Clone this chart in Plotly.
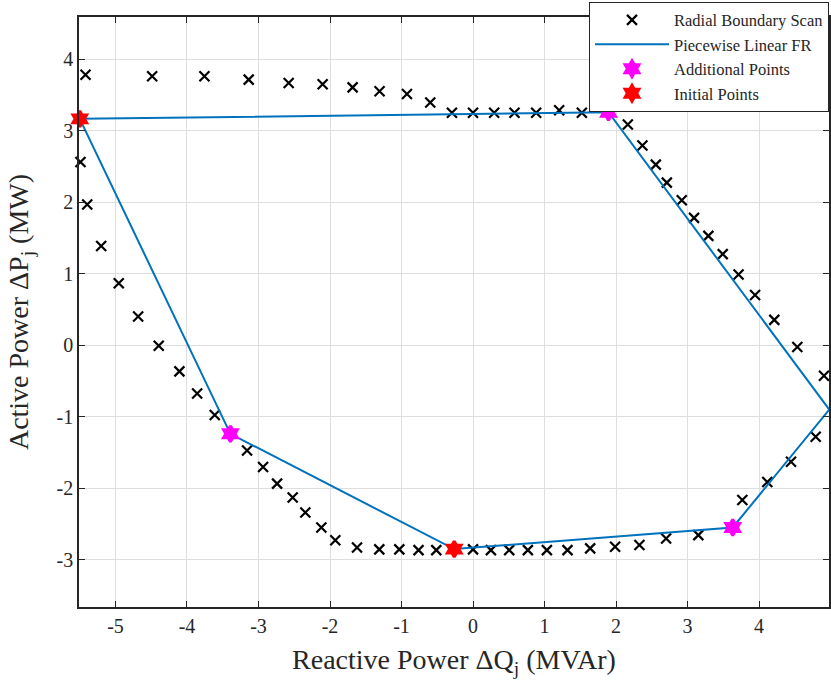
import plotly.graph_objects as go

# Radial boundary scan points (Reactive Q, Active P)
scan_q = [-5.419, -5.489, -5.395, -5.200, -4.954, -4.683, -4.395, -4.106, -3.858, -3.612,
          -3.160, -2.936, -2.740, -2.522, -2.345, -2.121, -1.926, -1.622, -1.311, -1.031,
          -0.762, -0.514, 0.000, 0.250, 0.506, 0.767, 1.033, 1.321, 1.638, 1.987,
          2.327, 2.700, 3.151, 3.766, 4.115, 4.447, 4.792, 4.908, 4.535, 4.213,
          3.944, 3.713, 3.492, 3.291, 3.091, 2.919, 2.710, 2.556, 2.369, 2.165,
          1.522, 1.205, 0.883, 0.580, 0.296, 0.000, -0.295, -0.598, -0.924, -1.307,
          -1.684, -2.103, -2.578, -3.137, -3.756, -4.487]
scan_p = [3.781, 2.560, 1.967, 1.386, 0.866, 0.401, -0.007, -0.365, -0.675, -0.975,
          -1.469, -1.702, -1.933, -2.128, -2.337, -2.546, -2.723, -2.825, -2.852, -2.852,
          -2.862, -2.862, -2.852, -2.862, -2.862, -2.862, -2.862, -2.862, -2.838, -2.816,
          -2.792, -2.699, -2.653, -2.162, -1.911, -1.627, -1.279, -0.425, -0.025, 0.355,
          0.703, 0.989, 1.274, 1.529, 1.780, 2.026, 2.273, 2.524, 2.792, 3.085,
          3.248, 3.284, 3.248, 3.248, 3.248, 3.248, 3.248, 3.391, 3.510, 3.549,
          3.604, 3.646, 3.666, 3.712, 3.758, 3.758]

# Initial points
init_q = [-5.499, -0.263, 4.982]
init_p = [3.164, -2.848, -0.898]

# Additional points
add_q = [1.894, 3.632, -3.393]
add_p = [3.256, -2.546, -1.237]

# Piecewise linear feasible region (closed polygon through vertices)
fr_q = [init_q[0], add_q[0], init_q[2], add_q[1], init_q[1], add_q[2], init_q[0]]
fr_p = [init_p[0], add_p[0], init_p[2], add_p[1], init_p[1], add_p[2], init_p[0]]

x_ticks = [-5, -4, -3, -2, -1, 0, 1, 2, 3, 4]
y_ticks = [-3, -2, -1, 0, 1, 2, 3, 4]

FONT = "Liberation Serif, Times New Roman, serif"
AX = "#262626"

fig = go.Figure()
fig.add_trace(go.Scatter(
    x=scan_q, y=scan_p, mode="markers", name="Radial Boundary Scan",
    marker=dict(symbol="x-thin", size=10, line=dict(color="black", width=2.2), color="black"),
    cliponaxis=False))
fig.add_trace(go.Scatter(
    x=fr_q, y=fr_p, mode="lines", name="Piecewise Linear FR",
    line=dict(color="#0072BD", width=2), cliponaxis=False))
fig.add_trace(go.Scatter(
    x=add_q, y=add_p, mode="markers", name="Additional Points",
    marker=dict(symbol="hexagram", size=12, color="#FF00FF", line=dict(width=3, color="#FF00FF")),
    cliponaxis=False))
fig.add_trace(go.Scatter(
    x=init_q, y=init_p, mode="markers", name="Initial Points",
    marker=dict(symbol="hexagram", size=12, color="#FF0000", line=dict(width=3, color="#FF0000")),
    cliponaxis=False))

axis_common = dict(
    showgrid=True, gridcolor="#dedede", gridwidth=1,
    showline=True, linecolor=AX, linewidth=1.5, mirror="allticks",
    ticks="inside", ticklen=6, tickcolor=AX,
    zeroline=False, automargin=False,
    tickfont=dict(family=FONT, size=20, color=AX),
)

fig.update_layout(
    width=831, height=688,
    paper_bgcolor="white", plot_bgcolor="white",
    margin=dict(l=79, r=2, t=17, b=81),
    font=dict(family=FONT, color=AX),
    showlegend=True,
    legend=dict(
        x=1.0, y=1.026, xanchor="right", yanchor="top",
        bgcolor="white", bordercolor=AX, borderwidth=1,
        font=dict(family=FONT, size=16.5, color=AX),
        tracegroupgap=0, itemwidth=74,
    ),
)
fig.update_xaxes(
    range=[-5.51, 4.978], tickvals=x_ticks, ticktext=[str(v) for v in x_ticks],
    title=dict(text="Reactive Power ΔQ<sub>j</sub> (MVAr)", font=dict(family=FONT, size=28, color=AX), standoff=14),
    **axis_common)
fig.update_yaxes(
    range=[-3.657, 4.587], tickvals=y_ticks, ticktext=[str(v) for v in y_ticks],
    title=dict(text="Active Power ΔP<sub>j</sub> (MW)", font=dict(family=FONT, size=28, color=AX), standoff=20),
    **axis_common)

fig.write_html("out.html", config={"displayModeBar": False},
               post_script="document.body.style.margin='0';")
